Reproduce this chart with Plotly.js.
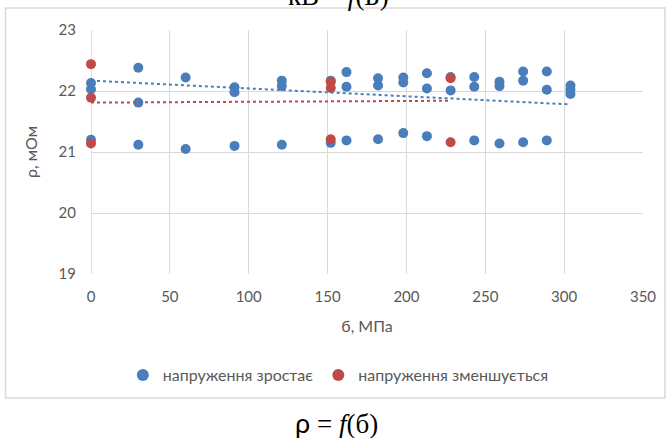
<!DOCTYPE html>
<html>
<head>
<meta charset="utf-8">
<script src="https://cdn.plot.ly/plotly-3.0.1.min.js"></script>
<style>
  html, body { margin: 0; padding: 0; background: #fff; }
  #chart { width: 670px; height: 438px; }
</style>
</head>
<body>
<div id="chart"></div>
<script>
// Series "напруження зростає" (stress increasing)
const risingX = [0, 0, 0, 30, 30, 30, 60, 60, 91, 91, 91, 121, 121, 121, 152, 152,
  162, 162, 162, 182, 182, 182, 198, 198, 198, 213, 213, 213, 228, 228,
  243, 243, 243, 259, 259, 259, 274, 274, 274, 289, 289, 289, 304, 304, 304];
const risingY = [22.13, 22.03, 21.2, 22.38, 21.81, 21.12, 22.22, 21.05, 22.06, 21.98, 21.1,
  22.17, 22.08, 21.12, 22.17, 21.15, 22.31, 22.07, 21.19, 22.21, 22.09, 21.21,
  22.22, 22.14, 21.31, 22.29, 22.04, 21.26, 22.23, 22.01, 22.23, 22.07, 21.19,
  22.15, 22.08, 21.14, 22.32, 22.17, 21.16, 22.32, 22.02, 21.19, 22.09, 22.02, 21.95];

// Series "напруження зменшується" (stress decreasing)
const fallingX = [0, 0, 0, 152, 152, 152, 228, 228];
const fallingY = [22.44, 21.89, 21.14, 22.15, 22.05, 21.21, 22.21, 21.16];

// Linear trend lines (endpoints)
const risingTrendX = [0, 304];
const risingTrendY = [22.17, 21.78];
const fallingTrendX = [0, 228];
const fallingTrendY = [21.81, 21.84];

const seriesNames = ['напруження зростає', 'напруження зменшується'];
const xTicks = [0, 50, 100, 150, 200, 250, 300, 350];
const yTicks = [19, 20, 21, 22, 23];

const BLUE = '#4A7EBB';
const RED = '#BE4B48';

const traces = [
  { x: risingX, y: risingY, type: 'scatter', mode: 'markers', name: seriesNames[0],
    cliponaxis: false, marker: { color: BLUE, size: 10, line: { width: 0 } } },
  { x: fallingX, y: fallingY, type: 'scatter', mode: 'markers', name: seriesNames[1],
    cliponaxis: false, marker: { color: RED, size: 10, line: { width: 0 } } },
  { x: risingTrendX, y: risingTrendY, type: 'scatter', mode: 'lines', showlegend: false,
    hoverinfo: 'skip', line: { color: BLUE, width: 2, dash: 'dot' } },
  { x: fallingTrendX, y: fallingTrendY, type: 'scatter', mode: 'lines', showlegend: false,
    hoverinfo: 'skip', line: { color: RED, width: 2, dash: 'dot' } }
];

const FONT = 'Lato, "Open Sans", sans-serif';
const GRAY = '#595959';
const SERIF = '"Liberation Serif", "DejaVu Serif", serif';

const layout = {
  width: 670, height: 438,
  margin: { l: 90.5, r: 27, t: 30, b: 164 },
  paper_bgcolor: '#fff', plot_bgcolor: '#fff',
  showlegend: true,
  font: { family: FONT, size: 15, color: GRAY },
  xaxis: {
    range: [0, 350], tickvals: xTicks, ticktext: xTicks.map(String),
    showgrid: true, gridcolor: '#D9D9D9', gridwidth: 1,
    zeroline: false, showline: false, ticks: '',
    ticklabelstandoff: 12,
    tickfont: { family: FONT, size: 15, color: GRAY },
    title: { text: 'б, МПа', font: { family: FONT, size: 16, color: GRAY }, standoff: 16 },
    fixedrange: true
  },
  yaxis: {
    range: [19, 23], tickvals: yTicks, ticktext: yTicks.map(String),
    showgrid: true, gridcolor: '#D9D9D9', gridwidth: 1,
    zeroline: false, showline: false, ticks: '',
    ticklabelstandoff: 14,
    tickfont: { family: FONT, size: 15, color: GRAY },
    title: { text: 'ρ, мОм', font: { family: FONT, size: 16, color: GRAY }, standoff: 16 },
    fixedrange: true
  },
  legend: {
    orientation: 'h', x: 0.448, xanchor: 'center', y: -0.414, yanchor: 'middle',
    font: { family: FONT, size: 16, color: GRAY },
    itemsizing: 'constant', tracegroupgap: 0, itemwidth: 30
  },
  shapes: [
    { type: 'line', xref: 'x', yref: 'paper', x0: 0, x1: 0, y0: 0, y1: 1,
      line: { color: '#BFBFBF', width: 1 }, layer: 'below' },
    { type: 'rect', xref: 'paper', yref: 'paper',
      x0: (5 - 90.5) / 552.5, x1: (665 - 90.5) / 552.5,
      y0: (274 - 398) / 244, y1: (274 - 8) / 244,
      line: { color: '#D9D9D9', width: 1.5 }, fillcolor: 'rgba(0,0,0,0)', layer: 'below' }
  ],
  annotations: [
    { xref: 'paper', yref: 'paper', x: (336 - 90.5) / 552.5, y: (274 - 422) / 244,
      xanchor: 'center', yanchor: 'middle', showarrow: false,
      text: '<span style="font-family:Lato, sans-serif">ρ</span> = <i>f</i>(б)',
      font: { family: SERIF, size: 27, color: '#000' } },
    { xref: 'paper', yref: 'paper', x: (338 - 90.5) / 552.5, y: (274 + 4) / 244,
      xanchor: 'center', yanchor: 'middle', showarrow: false,
      text: 'кВ = <i>f</i>(Б)', font: { family: SERIF, size: 27, color: '#000' } }
  ]
};

Plotly.newPlot('chart', traces, layout, { displayModeBar: false, staticPlot: true });
</script>
</body>
</html>
